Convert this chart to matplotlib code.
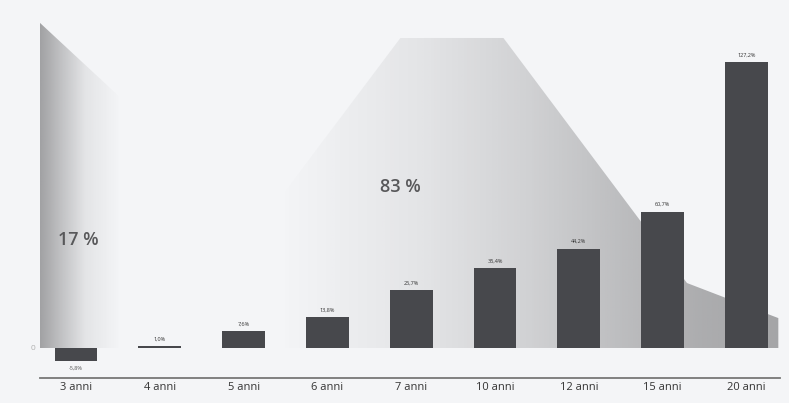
import numpy as np
import matplotlib
matplotlib.use("Agg")
import matplotlib.pyplot as plt
from matplotlib.patches import Polygon

plt.rcParams["font.family"] = ["Open Sans", "DejaVu Sans"]

# --- data -------------------------------------------------------------
categories = ["3 anni", "4 anni", "5 anni", "6 anni", "7 anni",
              "10 anni", "12 anni", "15 anni", "20 anni"]
returns = [-5.8, 1.0, 7.6, 13.8, 25.7, 35.4, 44.2, 60.7, 127.2]

share_labels = ["17 %", "83 %"]

# background bands (category index, value)
band_small_x = [-0.43, -0.43, 3.75]
band_small_y = [0.0, 144.6, 0.0]
band_large_x = [1.09, 3.87, 5.10, 7.29, 8.38, 8.38]
band_large_y = [0.0, 137.9, 137.9, 28.9, 13.3, 0.0]

# --- figure -----------------------------------------------------------
W, H = 789, 403
fig = plt.figure(figsize=(W / 100, H / 100), dpi=100, facecolor="#f4f5f7")
ax = fig.add_axes([40 / W, (H - 378) / H, 740 / W, 358 / H])
ax.set_facecolor("#f4f5f7")

xlim = (-0.43, 8.40)
ylim = (-13.35, 145.9)
ax.set_xlim(*xlim)
ax.set_ylim(*ylim)


def gradient_fill(xs, ys, stops_x, stops_a, color, z):
    poly = Polygon(np.column_stack([xs, ys]), closed=True,
                   facecolor="none", edgecolor="none")
    ax.add_patch(poly)
    gx = np.linspace(xlim[0], xlim[1], 800)
    alpha = np.interp(gx, stops_x, stops_a)
    rgb = np.array(matplotlib.colors.to_rgb(color))
    img = np.zeros((2, gx.size, 4))
    img[..., :3] = rgb
    img[..., 3] = alpha
    im = ax.imshow(img, extent=[xlim[0], xlim[1], ylim[0], ylim[1]],
                   aspect="auto", origin="lower", zorder=z,
                   interpolation="bilinear")
    im.set_clip_path(poly)


def px_to_x(px):
    return (px - 76) / 83.8


gradient_fill(band_large_x, band_large_y,
              [px_to_x(p) for p in (280, 420, 530, 620, 700, 780)],
              [0.0, 0.12, 0.26, 0.40, 0.52, 0.58], "#6a6a6c", 1)
gradient_fill(band_small_x, band_small_y,
              [px_to_x(p) for p in (40, 60, 85, 120)],
              [0.6, 0.38, 0.12, 0.0], "#6a6a6c", 2)

# --- bars -------------------------------------------------------------
x = np.arange(len(categories))
ax.bar(x, returns, width=0.51, color="#47484c", zorder=3)

for xi, v in zip(x, returns):
    txt = f"{v:.1f}%".replace(".", ",")
    if v >= 0:
        ax.text(xi, v + 2.0, txt, ha="center", va="bottom",
                fontsize=4, color="#333333", zorder=4)
    else:
        ax.text(xi, v - 2.0, txt, ha="center", va="top",
                fontsize=4, color="#555555", zorder=4)

ax.text(px_to_x(78), (348 - 240) / 2.248, share_labels[0], ha="center",
        va="center", fontsize=13, fontweight="semibold", color="#58585a",
        zorder=5)
ax.text(px_to_x(400), (348 - 187) / 2.248, share_labels[1], ha="center",
        va="center", fontsize=13, fontweight="semibold", color="#58585a",
        zorder=5)

# --- axes styling -----------------------------------------------------
for s in ("top", "right", "left"):
    ax.spines[s].set_visible(False)
ax.spines["bottom"].set_color("#777777")
ax.spines["bottom"].set_linewidth(1.3)

ax.set_xticks(x)
ax.set_xticklabels(categories, fontsize=8, color="#333333")
ax.set_yticks([0])
ax.set_yticklabels(["0"], fontsize=6, color="#b0b0b0")
ax.tick_params(axis="x", length=0, pad=3)
ax.tick_params(axis="y", length=0, pad=3)

fig.savefig("out.png", dpi=100, facecolor=fig.get_facecolor())
